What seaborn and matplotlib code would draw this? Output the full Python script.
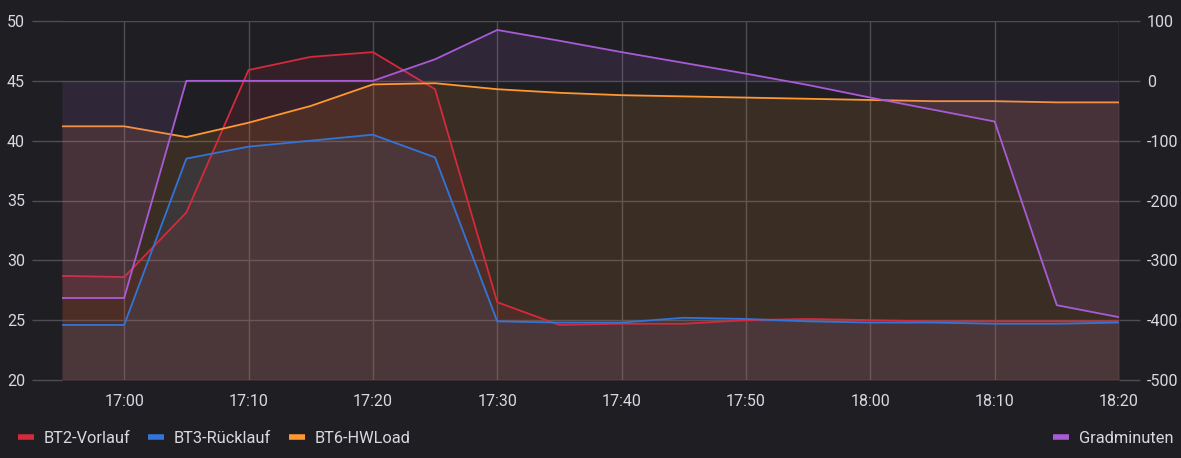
#!/usr/bin/env python3

import matplotlib
matplotlib.use("Agg")
import matplotlib.pyplot as plt
from matplotlib.lines import Line2D
import seaborn as sns
import pandas as pd

times = ["16:55", "17:00", "17:05", "17:10", "17:15", "17:20", "17:25", "17:30", "17:35",
         "17:40", "17:45", "17:50", "17:55", "18:00", "18:05", "18:10", "18:15", "18:20"]
bt2_vorlauf = [28.7, 28.6, 34.0, 45.9, 47.0, 47.4, 44.3, 26.5, 24.6,
               24.7, 24.7, 25.0, 25.1, 25.0, 24.9, 24.9, 24.9, 24.9]
bt3_ruecklauf = [24.6, 24.6, 38.5, 39.5, 40.0, 40.5, 38.6, 24.9, 24.8,
                 24.8, 25.2, 25.1, 24.9, 24.8, 24.8, 24.7, 24.7, 24.8]
bt6_hwload = [41.2, 41.2, 40.3, 41.5, 42.9, 44.7, 44.8, 44.3, 44.0,
              43.8, 43.7, 43.6, 43.5, 43.4, 43.3, 43.3, 43.2, 43.2]
gradminuten = [-363, -363, 0, 0, 0, 0, 36, 85, 67,
               48, 30, 12, -7, -28, -48, -68, -375, -395]

xtick_labels = ["17:00", "17:10", "17:20", "17:30", "17:40", "17:50", "18:00", "18:10", "18:20"]

colors = {
    "BT2-Vorlauf": "#D42A3C",
    "BT3-Rücklauf": "#3274D9",
    "BT6-HWLoad": "#FF9830",
    "Gradminuten": "#A95BD6",
}

bg = "#1F1F23"
grid = "#4D4D52"
text = "#D8D8E0"

t = pd.to_datetime(["2024-01-01 " + s for s in times])
df = pd.DataFrame({"time": t, "BT2-Vorlauf": bt2_vorlauf,
                   "BT3-Rücklauf": bt3_ruecklauf, "BT6-HWLoad": bt6_hwload})
long = df.melt(id_vars="time", var_name="series", value_name="value")

sns.set_style("dark")
plt.rcParams["font.family"] = ["Roboto", "DejaVu Sans"]

fig = plt.figure(figsize=(11.81, 4.58), dpi=100, facecolor=bg)
ax = fig.add_axes([62 / 1181, 1 - 380 / 458, (1119 - 62) / 1181, (380 - 21) / 458])
ax.set_facecolor(bg)

for name in ["BT2-Vorlauf", "BT3-Rücklauf", "BT6-HWLoad"]:
    ax.fill_between(df["time"], df[name], 20, color=colors[name], alpha=0.12, lw=0)

sns.lineplot(data=long, x="time", y="value", hue="series", palette=colors,
             linewidth=1.3, legend=False, ax=ax)

ax2 = ax.twinx()
ax2.fill_between(t, gradminuten, 0, color=colors["Gradminuten"], alpha=0.12, lw=0)
sns.lineplot(x=t, y=gradminuten, color=colors["Gradminuten"], linewidth=1.3, ax=ax2)

ax.set_ylim(20, 50)
ax2.set_ylim(-500, 100)
ax.set_xlim(t[0], t[-1])
ax.set_yticks([20, 25, 30, 35, 40, 45, 50])
ax2.set_yticks([-500, -400, -300, -200, -100, 0, 100])
ax2.set_yticklabels(["-500", "-400", "-300", "-200", "-100", "0", "100"])

xt = pd.to_datetime(["2024-01-01 " + s for s in xtick_labels])
ax.set_xticks(xt)
ax.set_xticklabels(xtick_labels)

ax.grid(True, color=grid, linewidth=1)
ax2.grid(False)
ax.set_xlabel("")
ax.set_ylabel("")
ax2.set_xlabel("")
ax2.set_ylabel("")
for a in (ax, ax2):
    for s in a.spines.values():
        s.set_visible(False)

ax.tick_params(axis="x", length=0, pad=10, labelsize=11.5, labelcolor=text)
ax.tick_params(axis="y", length=21.6, width=1, color=grid, pad=5, labelsize=11.5, labelcolor=text)
ax2.tick_params(axis="y", length=15, width=1, color=grid, pad=5, labelsize=11.5, labelcolor=text)

names = ["BT2-Vorlauf", "BT3-Rücklauf", "BT6-HWLoad"]
handles = [Line2D([0], [0], color=colors[n], lw=4, solid_capstyle="butt") for n in names]
fig.legend(handles, names, loc="lower left", bbox_to_anchor=(0.003, -0.005), ncol=3,
           frameon=False, handlelength=0.95, handletextpad=0.6, columnspacing=1.1,
           fontsize=11.8, labelcolor=text)
fig.legend([Line2D([0], [0], color=colors["Gradminuten"], lw=4, solid_capstyle="butt")],
           ["Gradminuten"], loc="lower right", bbox_to_anchor=(1.006, -0.005),
           frameon=False, handlelength=0.95, handletextpad=0.6,
           fontsize=11.8, labelcolor=text)

fig.savefig("out.png", dpi=100, facecolor=bg)
